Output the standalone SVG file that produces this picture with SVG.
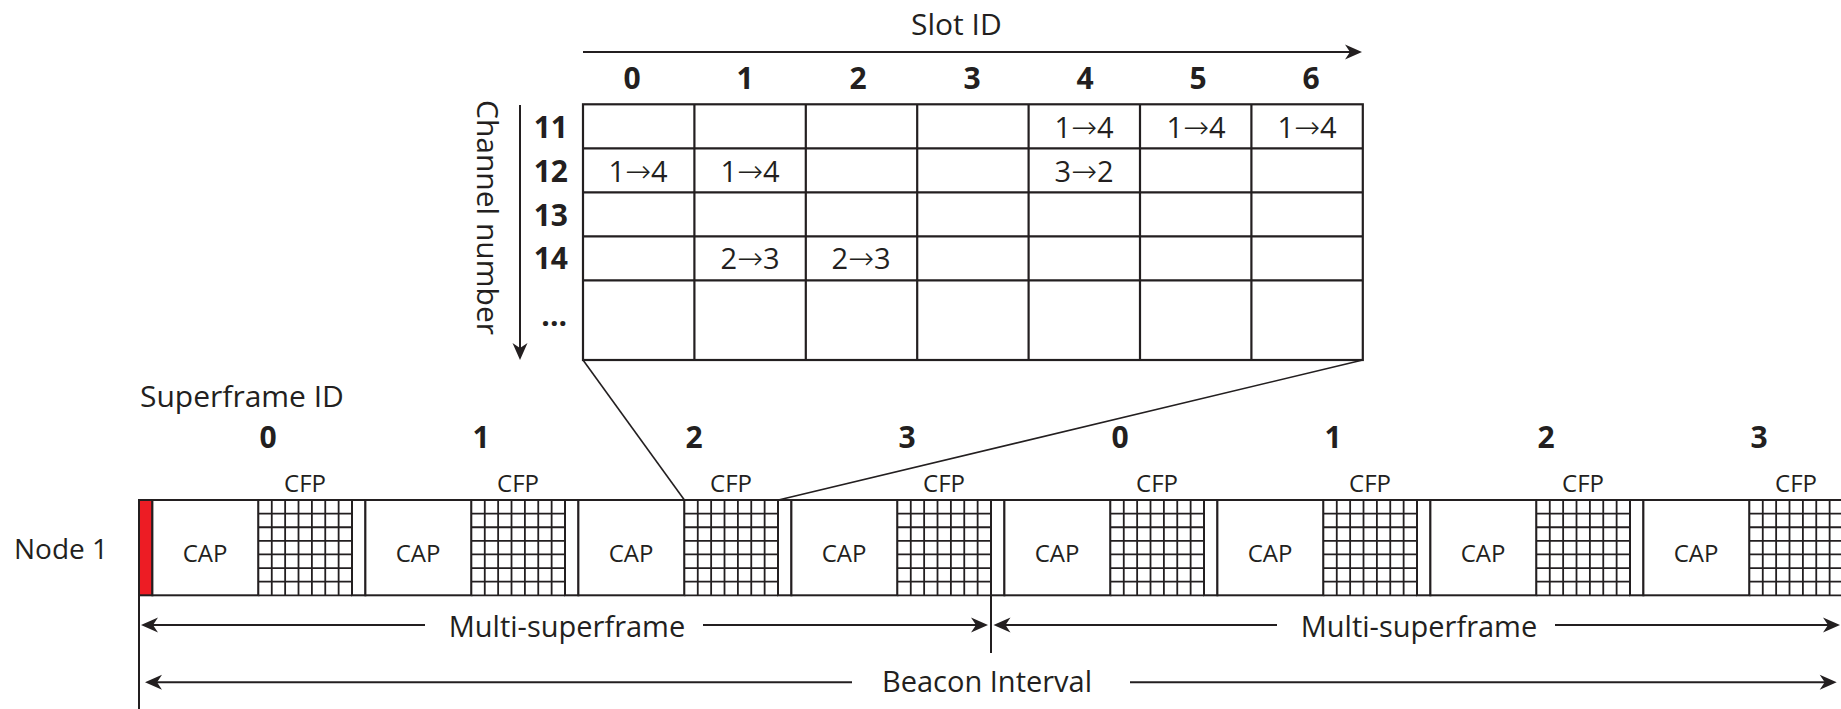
<svg xmlns="http://www.w3.org/2000/svg" xmlns:xlink="http://www.w3.org/1999/xlink" width="1841" height="709" viewBox="0 0 1841 709">
<style>
  text { font-family: "Open Sans", "Noto Sans", "DejaVu Sans", sans-serif; fill: #231f20; }
  .lbl { font-size: 30px; }
  .b { font-size: 30px; font-weight: bold; text-anchor: middle; }
  .rl { font-size: 30px; font-weight: bold; text-anchor: end; }
  .cell { font-size: 29px; text-anchor: middle; }
  .ar { font-family: "DejaVu Sans", sans-serif; font-size: 31px; font-weight: 300; }
  .sm { font-size: 24px; text-anchor: middle; }
  .mid { font-size: 29px; text-anchor: middle; }
  .ln { stroke: #231f20; stroke-width: 2; fill: none; }
  .tl { stroke: #231f20; stroke-width: 2.2; fill: none; }
  .box { stroke: #231f20; stroke-width: 2; fill: #ffffff; }
  .beacon { stroke: #231f20; stroke-width: 2; fill: #ed1c24; }
  .grid { stroke: #231f20; stroke-width: 1.8; fill: none; }
  .conn { stroke: #231f20; stroke-width: 1.6; fill: none; }
  .arr { stroke: #231f20; stroke-width: 2; fill: none; marker-end: url(#ah); }
</style>
<defs>
  <marker id="ah" viewBox="-19 -9 21 18" refX="-5" refY="0" markerWidth="21" markerHeight="18" markerUnits="userSpaceOnUse" orient="auto">
    <path d="M0,0 L-17,-7.5 L-12,0 L-17,7.5 Z" fill="#231f20"/>
  </marker>
  <g id="cfp">
    <rect x="0" y="0" width="93.6" height="95.3" fill="#ffffff"/>
    <path class="grid" d="M0,0V95.3 M13.37,0V95.3 M26.74,0V95.3 M40.11,0V95.3 M53.49,0V95.3 M66.86,0V95.3 M80.23,0V95.3 M93.6,0V95.3 M0,0H93.6 M0,13.61H93.6 M0,27.23H93.6 M0,40.84H93.6 M0,54.46H93.6 M0,68.07H93.6 M0,81.69H93.6 M0,95.3H93.6"/>
  </g>
</defs>
<rect width="1841" height="709" fill="#ffffff"/>

<!-- Slot table -->
<g id="slot-table">
  <text class="lbl" x="911" y="35">Slot ID</text>
  <text class="lbl" transform="translate(477,100) rotate(90)">Channel number</text>
  <g id="slot-headers">
    <text class="b" x="632" y="89">0</text>
    <text class="b" x="745" y="89">1</text>
    <text class="b" x="858" y="89">2</text>
    <text class="b" x="972" y="89">3</text>
    <text class="b" x="1085" y="89">4</text>
    <text class="b" x="1198" y="89">5</text>
    <text class="b" x="1311" y="89">6</text>
  </g>
  <g id="channel-labels">
    <text class="rl" x="568" y="138">11</text>
    <text class="rl" x="568" y="182">12</text>
    <text class="rl" x="568" y="226">13</text>
    <text class="rl" x="568" y="269">14</text>
    <text class="rl" x="567" y="326">...</text>
  </g>
  <g id="table-grid">
    <rect class="tl" x="583" y="104.3" width="779.8" height="255.7" fill="#ffffff"/>
    <path class="tl" d="M583,148.3H1362.8 M583,192.3H1362.8 M583,236.3H1362.8 M583,280.3H1362.8 M694.4,104.3V360 M805.8,104.3V360 M917.2,104.3V360 M1028.6,104.3V360 M1140,104.3V360 M1251.4,104.3V360"/>
  </g>
  <g id="cell-texts">
    <text class="cell" x="1084" y="138">1<tspan class="ar">→</tspan>4</text>
    <text class="cell" x="1196" y="138">1<tspan class="ar">→</tspan>4</text>
    <text class="cell" x="1307" y="138">1<tspan class="ar">→</tspan>4</text>
    <text class="cell" x="638" y="182">1<tspan class="ar">→</tspan>4</text>
    <text class="cell" x="750" y="182">1<tspan class="ar">→</tspan>4</text>
    <text class="cell" x="1084" y="182">3<tspan class="ar">→</tspan>2</text>
    <text class="cell" x="750" y="269">2<tspan class="ar">→</tspan>3</text>
    <text class="cell" x="861" y="269">2<tspan class="ar">→</tspan>3</text>
  </g>
</g>

<!-- Labels -->
<g id="labels">
  <text class="lbl" x="140" y="407">Superframe ID</text>
  <text class="lbl" x="14" y="559" style="font-size:28px">Node 1</text>
</g>

<!-- Superframes -->
<g id="superframe-0">
  <text class="b" x="268" y="448">0</text>
  <text class="sm" x="305" y="492">CFP</text>
  <rect class="beacon" x="139" y="500" width="13.4" height="95.3"/>
  <rect class="box" x="152.4" y="500" width="106" height="95.3"/>
  <text class="sm" x="205" y="562">CAP</text>
  <use xlink:href="#cfp" x="258.4" y="500"/>
</g>
<g id="superframe-1">
  <text class="b" x="481" y="448">1</text>
  <text class="sm" x="518" y="492">CFP</text>
  <rect class="box" x="352" y="500" width="13.4" height="95.3"/>
  <rect class="box" x="365.4" y="500" width="106" height="95.3"/>
  <text class="sm" x="418" y="562">CAP</text>
  <use xlink:href="#cfp" x="471.4" y="500"/>
</g>
<g id="superframe-2">
  <text class="b" x="694" y="448">2</text>
  <text class="sm" x="731" y="492">CFP</text>
  <rect class="box" x="565" y="500" width="13.4" height="95.3"/>
  <rect class="box" x="578.4" y="500" width="106" height="95.3"/>
  <text class="sm" x="631" y="562">CAP</text>
  <use xlink:href="#cfp" x="684.4" y="500"/>
</g>
<g id="superframe-3">
  <text class="b" x="907" y="448">3</text>
  <text class="sm" x="944" y="492">CFP</text>
  <rect class="box" x="778" y="500" width="13.4" height="95.3"/>
  <rect class="box" x="791.4" y="500" width="106" height="95.3"/>
  <text class="sm" x="844" y="562">CAP</text>
  <use xlink:href="#cfp" x="897.4" y="500"/>
</g>
<g id="superframe-4">
  <text class="b" x="1120" y="448">0</text>
  <text class="sm" x="1157" y="492">CFP</text>
  <rect class="box" x="991" y="500" width="13.4" height="95.3"/>
  <rect class="box" x="1004.4" y="500" width="106" height="95.3"/>
  <text class="sm" x="1057" y="562">CAP</text>
  <use xlink:href="#cfp" x="1110.4" y="500"/>
</g>
<g id="superframe-5">
  <text class="b" x="1333" y="448">1</text>
  <text class="sm" x="1370" y="492">CFP</text>
  <rect class="box" x="1204" y="500" width="13.4" height="95.3"/>
  <rect class="box" x="1217.4" y="500" width="106" height="95.3"/>
  <text class="sm" x="1270" y="562">CAP</text>
  <use xlink:href="#cfp" x="1323.4" y="500"/>
</g>
<g id="superframe-6">
  <text class="b" x="1546" y="448">2</text>
  <text class="sm" x="1583" y="492">CFP</text>
  <rect class="box" x="1417" y="500" width="13.4" height="95.3"/>
  <rect class="box" x="1430.4" y="500" width="106" height="95.3"/>
  <text class="sm" x="1483" y="562">CAP</text>
  <use xlink:href="#cfp" x="1536.4" y="500"/>
</g>
<g id="superframe-7">
  <text class="b" x="1759" y="448">3</text>
  <text class="sm" x="1796" y="492">CFP</text>
  <rect class="box" x="1630" y="500" width="13.4" height="95.3"/>
  <rect class="box" x="1643.4" y="500" width="106" height="95.3"/>
  <text class="sm" x="1696" y="562">CAP</text>
  <use xlink:href="#cfp" x="1749.4" y="500"/>
</g>

<!-- Connectors -->
<g id="connectors">
  <line class="arr" x1="583" y1="52" x2="1357" y2="52"/>
  <line class="arr" x1="520" y1="105" x2="520" y2="355"/>
  <line class="conn" x1="583" y1="360" x2="684.4" y2="500"/>
  <line class="conn" x1="1362.8" y1="360" x2="778.4" y2="500"/>
  <line class="ln" x1="139" y1="500" x2="139" y2="709"/>
  <line class="ln" x1="991" y1="595" x2="991" y2="653"/>
  <line class="arr" x1="425" y1="625" x2="146" y2="625"/>
  <line class="arr" x1="703" y1="625" x2="983" y2="625"/>
  <line class="arr" x1="1277" y1="625" x2="998.5" y2="625"/>
  <line class="arr" x1="1555" y1="625" x2="1835" y2="625"/>
  <line class="arr" x1="852" y1="682.3" x2="150" y2="682.3"/>
  <line class="arr" x1="1130" y1="682.3" x2="1831.7" y2="682.3"/>
</g>
<g id="dimension-labels">
  <text class="mid" x="567" y="637">Multi-superframe</text>
  <text class="mid" x="1419" y="637">Multi-superframe</text>
  <text class="mid" x="987" y="692">Beacon Interval</text>
</g>
</svg>
